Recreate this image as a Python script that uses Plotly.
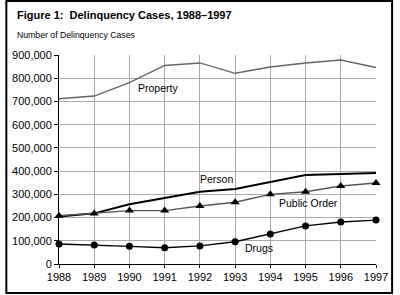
import plotly.graph_objects as go

years = [1988, 1989, 1990, 1991, 1992, 1993, 1994, 1995, 1996, 1997]
property_cases = [712000, 723000, 781000, 855000, 866000, 821000, 848000, 866000, 878000, 846000]
person_cases = [205000, 218000, 257000, 283000, 311000, 323000, 352000, 383000, 388000, 392000]
public_order_cases = [208000, 218000, 230000, 230000, 250000, 266000, 300000, 311000, 336000, 349000]
drugs_cases = [86000, 82000, 76000, 70000, 78000, 96000, 129000, 164000, 181000, 189000]
y_ticks = [0, 100000, 200000, 300000, 400000, 500000, 600000, 700000, 800000, 900000]
y_tick_labels = ["0", "100,000", "200,000", "300,000", "400,000", "500,000",
                 "600,000", "700,000", "800,000", "900,000"]

FONT = "Liberation Sans, Arial, sans-serif"

fig = go.Figure()
fig.add_trace(go.Scatter(x=years, y=property_cases, mode="lines",
                         line=dict(color="#666666", width=1.5), cliponaxis=False))
fig.add_trace(go.Scatter(x=years, y=person_cases, mode="lines",
                         line=dict(color="#000000", width=2), cliponaxis=False))
fig.add_trace(go.Scatter(x=years, y=public_order_cases, mode="lines+markers",
                         line=dict(color="#555555", width=1.4),
                         marker=dict(symbol="triangle-up", size=8, color="#000000"),
                         cliponaxis=False))
fig.add_trace(go.Scatter(x=years, y=drugs_cases, mode="lines+markers",
                         line=dict(color="#000000", width=1.4),
                         marker=dict(symbol="circle", size=7, color="#000000"),
                         cliponaxis=False))

labels = [("Property", 1990.82, 759000), ("Person", 1992.48, 365000),
          ("Public Order", 1995.08, 264000), ("Drugs", 1993.68, 68000)]
for text, lx, ly in labels:
    fig.add_annotation(x=lx, y=ly, text=text, showarrow=False,
                       font=dict(family=FONT, size=10.5, color="#000000"))

fig.add_annotation(xref="paper", yref="paper", x=(10 - 55) / 325, y=(264 - 15) / 209,
                   xanchor="left", yanchor="middle", showarrow=False,
                   text="<b>Figure 1:  Delinquency Cases, 1988\u20131997</b>",
                   font=dict(family=FONT, size=11, color="#000000"))
fig.add_annotation(xref="paper", yref="paper", x=(10 - 55) / 325, y=(264 - 35) / 209,
                   xanchor="left", yanchor="middle", showarrow=False,
                   text="Number of Delinquency Cases",
                   font=dict(family=FONT, size=8.7, color="#000000"))

# outer frame
fig.add_shape(type="rect", xref="paper", yref="paper",
              x0=(1 - 55) / 325, x1=(396.5 - 55) / 325,
              y0=(264 - 293) / 209, y1=(264 - 1) / 209,
              line=dict(color="#000000", width=2))

fig.update_layout(
    width=400, height=295,
    margin=dict(l=55, r=20, t=55, b=31),
    paper_bgcolor="white", plot_bgcolor="white",
    showlegend=False,
    font=dict(family=FONT, size=11, color="#000000"),
)
fig.update_xaxes(range=[1988, 1997], tickvals=years, ticktext=[str(y) for y in years],
                 showgrid=True, gridcolor="#aaaaaa", gridwidth=1,
                 showline=True, linecolor="#000000", linewidth=1,
                 ticks="outside", ticklen=3, tickcolor="#000000",
                 zeroline=False, tickfont=dict(size=11))
fig.update_yaxes(range=[0, 900000], tickvals=y_ticks, ticktext=y_tick_labels,
                 showgrid=True, gridcolor="#aaaaaa", gridwidth=1,
                 showline=True, linecolor="#000000", linewidth=1,
                 ticks="outside", ticklen=4, tickcolor="#000000",
                 zeroline=False, tickfont=dict(size=11))

fig.write_html("out.html")
